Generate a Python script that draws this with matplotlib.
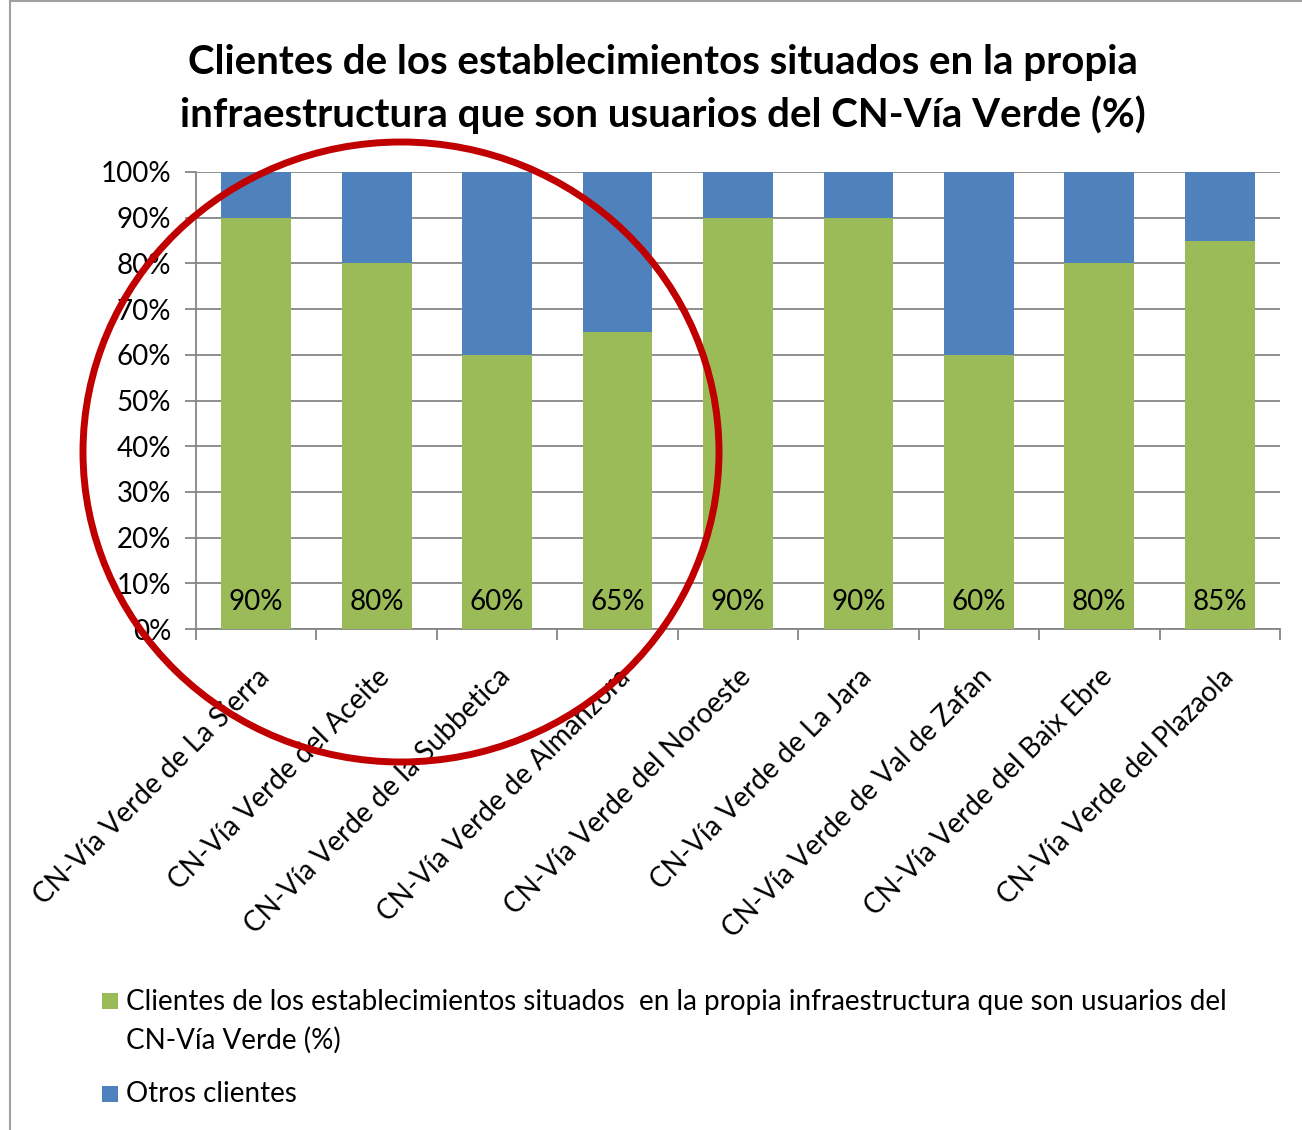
import matplotlib
matplotlib.use("Agg")
import matplotlib.pyplot as plt
from matplotlib.patches import Ellipse, Rectangle
import numpy as np

categories = ["CN-Vía Verde de La Sierra", "CN-Vía Verde del Aceite", "CN-Vía Verde de la Subbetica",
              "CN-Vía Verde de Almanzora", "CN-Vía Verde del Noroeste", "CN-Vía Verde de La Jara",
              "CN-Vía Verde de Val de Zafan", "CN-Vía Verde del Baix Ebre", "CN-Vía Verde del Plazaola"]
usuarios = [90, 80, 60, 65, 90, 90, 60, 80, 85]
otros = [10, 20, 40, 35, 10, 10, 40, 20, 15]
yticks = [0, 10, 20, 30, 40, 50, 60, 70, 80, 90, 100]

series1_name = "Clientes de los establecimientos situados  en la propia infraestructura que son usuarios del\nCN-Vía Verde (%)"
series2_name = "Otros clientes"
title = "Clientes de los establecimientos situados en la propia\ninfraestructura que son usuarios del CN-Vía Verde (%)"

plt.rcParams['font.family'] = ['Lato', 'DejaVu Sans']
GREEN = "#9BBB59"
BLUE = "#4F81BD"
GRID = "#868686"
FS = 20

fig = plt.figure(figsize=(13.02, 11.3), dpi=100)
ax = fig.add_axes([196/1302, 1-629/1130, (1280-196)/1302, (629-172)/1130])

x = np.arange(len(categories))
ax.bar(x, usuarios, width=0.58, color=GREEN, zorder=3)
ax.bar(x, otros, width=0.58, bottom=usuarios, color=BLUE, zorder=3)
for xi, v in zip(x, usuarios):
    ax.text(xi, 6, f"{v}%", ha='center', va='center', fontsize=FS, color='black', zorder=4)

ax.set_xlim(-0.5, len(categories)-0.5)
ax.set_ylim(0, 100)
ax.set_yticks(yticks)
ax.set_yticklabels([f"{t}%" for t in yticks], fontsize=FS)
ax.yaxis.grid(True, color=GRID, linewidth=1.3, zorder=0)
ax.set_axisbelow(True)
ax.tick_params(axis='y', length=8, width=1.3, color=GRID, pad=10)

ax.set_xticks(x)
ax.set_xticklabels(categories, rotation=45, ha='right', rotation_mode='anchor', fontsize=FS)
ax.tick_params(axis='x', length=0, pad=25)
ax.set_xticks(np.arange(-0.5, len(categories)), minor=True)
ax.tick_params(axis='x', which='minor', length=8, width=1.3, color=GRID)

for s in ['top', 'right']:
    ax.spines[s].set_visible(False)
ax.spines['left'].set_color(GRID)
ax.spines['left'].set_linewidth(1.3)
ax.spines['bottom'].set_color(GRID)
ax.spines['bottom'].set_linewidth(1.3)

fig.text(0.509, 1-89/1130, title, ha='center', va='center', fontsize=29, fontweight='bold',
         linespacing=1.45)

# legend
fig.patches.append(Rectangle((102/1302, 1-1009/1130), 16/1302, 16/1130, transform=fig.transFigure,
                             facecolor=GREEN, edgecolor='none'))
fig.text(126/1302, 1-989/1130, series1_name, ha='left', va='top', fontsize=FS, linespacing=1.55)
fig.patches.append(Rectangle((102/1302, 1-1102/1130), 16/1302, 16/1130, transform=fig.transFigure,
                             facecolor=BLUE, edgecolor='none'))
fig.text(126/1302, 1-1094/1130, series2_name, ha='left', va='center', fontsize=FS)

# frame
fig.add_artist(plt.Line2D([10/1302, 10/1302], [0, 1], transform=fig.transFigure, color='#A0A0A0', lw=1.5))
fig.add_artist(plt.Line2D([10/1302, 1], [1-1/1130, 1-1/1130], transform=fig.transFigure, color='#A0A0A0', lw=1.5))

# red annotation ellipse
fig.patches.append(Ellipse((401/1302, 1-452/1130), 636/1302, 620/1130, transform=fig.transFigure,
                           facecolor='none', edgecolor='#C00000', lw=5, zorder=10))

fig.savefig("out.png", dpi=100)
